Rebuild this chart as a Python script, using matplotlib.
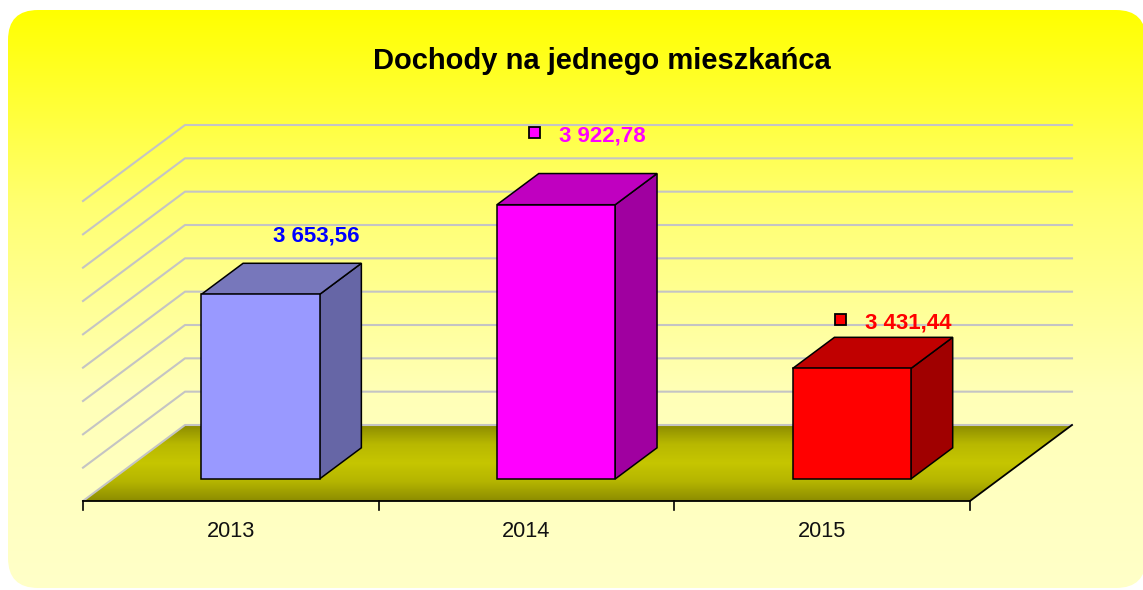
import numpy as np
import matplotlib
matplotlib.use("Agg")
import matplotlib.pyplot as plt
from matplotlib.patches import Polygon, FancyBboxPatch, Rectangle
from matplotlib.lines import Line2D
from matplotlib.transforms import IdentityTransform, Affine2D
from matplotlib.colors import LinearSegmentedColormap

# ---------------- data ----------------
categories = ["2013", "2014", "2015"]
values = [3653.56, 3922.78, 3431.44]
y_min, y_max, y_step = 3100, 4000, 100
title = "Dochody na jednego mieszkańca"

# ---------------- styles ----------------
front_colors = ["#9999FF", "#FF00FF", "#FF0000"]
top_colors = ["#7777BB", "#C000C0", "#C00000"]
side_colors = ["#6666A6", "#A000A0", "#A00000"]
label_colors = ["#0000FF", "#FF00FF", "#FF0000"]
show_marker = [False, True, True]
label_dx = [-29, -39, -29]   # px, text start relative to bar back-top centre
label_dy = [22, 32, 9]       # px, baseline above bar back-top

plt.rcParams['font.family'] = ['Liberation Sans', 'DejaVu Sans']

W, H, DPI = 1143, 590, 100
DX, DY = 102, 76          # floor depth in pixels
T_FRONT, T_BACK = 0.71, 0.30
BAR_W = 0.4

fig = plt.figure(figsize=(W / DPI, H / DPI), dpi=DPI)
fig.patch.set_facecolor("white")

# background axes in pixel coordinates (top-left origin)
bg = fig.add_axes([0, 0, 1, 1])
bg.set_xlim(0, W)
bg.set_ylim(H, 0)
bg.axis('off')
box = FancyBboxPatch((8, 10), 1138, 578, boxstyle="round,pad=0,rounding_size=30",
                     facecolor="none", edgecolor="none")
bg.add_patch(box)
grad = np.linspace(0, 1, 256).reshape(-1, 1)
cmap_bg = LinearSegmentedColormap.from_list("bg", ["#FFFF00", "#FFFF70", "#FFFFB8", "#FFFFC8"])
im = bg.imshow(grad, extent=(0, W, 588, 10), aspect='auto', cmap=cmap_bg, zorder=0)
im.set_clip_path(box)

# back wall axes: data coordinates
ax = fig.add_axes([185 / W, (H - 425) / H, 887 / W, 300 / H])
ax.set_xlim(-0.5, len(categories) - 0.5)
ax.set_ylim(y_min, y_max)
ax.axis('off')
ax.patch.set_visible(False)

ID = IdentityTransform()


def P(x, v, t):
    px, py = ax.transData.transform((x, v))
    return (px - DX * t, py - DY * t)


xl, xr = -0.5, len(categories) - 0.5

# floor with gradient
floor_pts = [P(xl, y_min, 0), P(xr, y_min, 0), P(xr, y_min, 1), P(xl, y_min, 1)]
floor_bg = [(x, H - y) for x, y in floor_pts]
floor_poly = Polygon(floor_bg, closed=True, facecolor="none", edgecolor="none")
bg.add_patch(floor_poly)
cmap_fl = LinearSegmentedColormap.from_list("fl", ["#8C8C00", "#B8B800", "#C6C600", "#B4B400", "#8C8C00"])
fy_top = min(p[1] for p in floor_bg)
fy_bot = max(p[1] for p in floor_bg)
im2 = bg.imshow(grad, extent=(0, W, fy_bot, fy_top), aspect='auto', cmap=cmap_fl, zorder=1)
im2.set_clip_path(floor_poly)

# gridlines on back wall and side wall
for v in np.arange(y_min, y_max + 1, y_step):
    a, b, c = P(xr, v, 0), P(xl, v, 0), P(xl, v, 1)
    ax.add_line(Line2D([a[0], b[0], c[0]], [a[1], b[1], c[1]], color="#C4C4C4",
                       lw=1.5, transform=ID, clip_on=False, zorder=1))

# floor edges
fa, fb = P(xl, y_min, 1), P(xr, y_min, 1)
ax.add_line(Line2D([fa[0], fb[0]], [fa[1], fb[1]], color="black", lw=1.3,
                   transform=ID, clip_on=False, zorder=2))
ra, rb = P(xr, y_min, 0), P(xr, y_min, 1)
ax.add_line(Line2D([ra[0], rb[0]], [ra[1], rb[1]], color="black", lw=1.3,
                   transform=ID, clip_on=False, zorder=2))

# ticks
for bnd in np.arange(xl, xr + 0.01, 1.0):
    p = P(bnd, y_min, 1)
    ax.add_line(Line2D([p[0], p[0]], [p[1], p[1] - 9], color="black", lw=1.2,
                       transform=ID, clip_on=False, zorder=2))
for i, cat in enumerate(categories):
    p = P(i, y_min, 1)
    ax.text(p[0], H - 537, cat, transform=ID, ha='center', va='baseline',
            fontsize=15.7, color="#111111")

# bars
xs = np.arange(len(categories))
for i, v in enumerate(values):
    x0, x1 = i - BAR_W / 2, i + BAR_W / 2
    top = [P(x0, v, T_FRONT), P(x1, v, T_FRONT), P(x1, v, T_BACK), P(x0, v, T_BACK)]
    side = [P(x1, y_min, T_FRONT), P(x1, y_min, T_BACK), P(x1, v, T_BACK), P(x1, v, T_FRONT)]
    ax.add_patch(Polygon(side, closed=True, facecolor=side_colors[i], edgecolor="black",
                         lw=1.1, transform=ID, clip_on=False, zorder=3, joinstyle='miter'))
    ax.add_patch(Polygon(top, closed=True, facecolor=top_colors[i], edgecolor="black",
                         lw=1.1, transform=ID, clip_on=False, zorder=3, joinstyle='miter'))

front_tr = ax.transData + Affine2D().translate(-DX * T_FRONT, -DY * T_FRONT)
bars = ax.bar(xs, np.array(values) - y_min, bottom=y_min, width=BAR_W,
              color=front_colors, edgecolor="black", linewidth=1.1,
              transform=front_tr, clip_on=False, zorder=4)

# data labels
for i, v in enumerate(values):
    cx, cy = P(i, v, T_BACK)
    tx, ty = cx + label_dx[i], cy + label_dy[i]
    s = f"{v:,.2f}".replace(",", " ").replace(".", ",")
    ax.text(tx, ty, s, transform=ID, ha='left', va='baseline', fontsize=16,
            fontweight='bold', color=label_colors[i], zorder=6)
    if show_marker[i]:
        ax.add_patch(Rectangle((tx - 24 - 5.5, ty + 9 - 5.5), 11, 11, facecolor=label_colors[i],
                               edgecolor="black", lw=1.3, transform=ID, clip_on=False, zorder=6))

# title
fig.text(602 / W, (H - 69) / H, title, ha='center', va='baseline', fontsize=21,
         fontweight='bold', color="black")

fig.savefig("out.png", dpi=DPI)
